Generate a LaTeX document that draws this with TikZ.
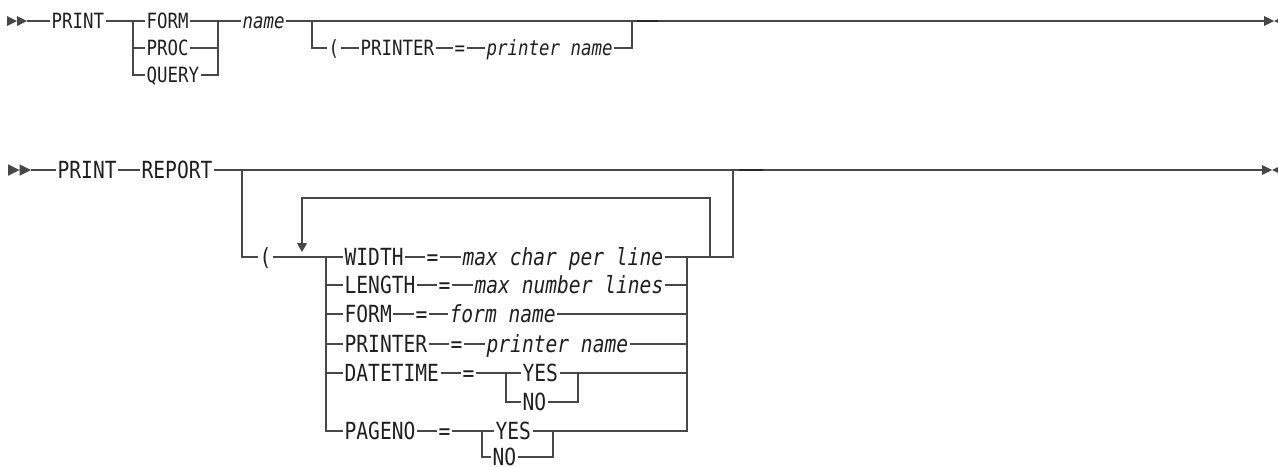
\documentclass[tikz,border=0pt]{standalone}
\usepackage{fontspec}
\usepackage{tikz}
\usetikzlibrary{arrows.meta}

\newfontfamily\rrfont[FakeStretch=0.83]{DejaVu Sans Mono}
\definecolor{rrline}{gray}{0.28}
\definecolor{rrtext}{gray}{0.12}

\tikzset{
  startmark/.pic={\fill[rrline] (0,-5) -- (10,0) -- (0,5) -- cycle
                                (10,-5) -- (20,0) -- (10,5) -- cycle;},
  endmark/.pic={\fill[rrline] (0,-5) -- (10,0) -- (0,5) -- cycle
                              (20,-5) -- (10,0) -- (20,5) -- cycle;},
  rr/.style={anchor=west,inner xsep=0.5pt,inner ysep=0pt,text=rrtext,text depth=0pt},
  darkseg/.style={line width=0.9pt,black!85}
}

\begin{document}
\begin{tikzpicture}[x=0.5pt,y=-0.5pt,line width=0.65pt,draw=rrline]
  \useasboundingbox (0,0) rectangle (1278,466);

      % first diagram: PRINT FORM/PROC/QUERY
      \begin{scope}[every node/.style={rr,font=\rrfont\fontsize{10.5}{12}\selectfont,text height=7.65pt}]
        \node[] (print1) at (50,21) {PRINT};
        \node[] (form1) at (145,21) {FORM};
        \node[] (proc1) at (145,48) {PROC};
        \node[] (query1) at (145,75) {QUERY};
        \node[] (name1) at (241,21) {\textit{name}};

        \node[] (lp1) at (327,48) {(};
        \node[] (printer1) at (359,48) {PRINTER};
        \node[] (eq1) at (453,48) {=};
        \node[] (pname1) at (485,48) {\textit{printer name}};
      \end{scope}

      \pic at (7,21) {startmark};
      \pic at (1264,21) {endmark};
      \coordinate (s1) at (27,21);
      \coordinate (ja) at (133,21);
      \coordinate (jb) at (218,21);
      \coordinate (jc) at (312,21);
      \coordinate (jd) at (632,21);
      \coordinate (d1a) at (637,21);
      \coordinate (d1b) at (658,21);
      \coordinate (e1) at (1264,21);

      \begin{scope}
        \draw (s1) -- (print1);
        \draw (print1) -- (form1);
        \draw (ja) |- (proc1);
        \draw (ja) |- (query1);

        \draw (form1) -- (name1);
        \draw (proc1) -| (jb);
        \draw (query1) -| (jb);

        \draw (name1) -- (e1);
        \draw (jc) |- (lp1);
        \draw (lp1) -- (printer1) -- (eq1) -- (pname1);
        \draw (pname1) -| (jd);
        \draw [darkseg] (d1a) -- (d1b);
      \end{scope}

      % second diagram: PRINT REPORT
      \begin{scope}[every node/.style={rr,font=\rrfont\fontsize{11.8}{13}\selectfont,text height=8.6pt}]
        \node[] (print2) at (56,170) {PRINT};
        \node[] (report2) at (140,170) {REPORT};
        \node[] (lp2) at (258,257) {(};

        \node[] (width) at (343,257) {WIDTH};
        \node[] (eqa) at (425,257) {=};
        \node[] (maxchar) at (461,257) {\textit{max char per line}};

        \node[] (length) at (343,285) {LENGTH};
        \node[] (eqb) at (437,285) {=};
        \node[] (maxlines) at (473,285) {\textit{max number lines}};

        \node[] (form2) at (343,314) {FORM};
        \node[] (eqc) at (414,314) {=};
        \node[] (fname) at (448,314) {\textit{form name}};

        \node[] (printer2) at (343,344) {PRINTER};
        \node[] (eqd) at (449,344) {=};
        \node[] (pname2) at (485,344) {\textit{printer name}};

        \node[] (dt) at (343,373) {DATETIME};
        \node[] (eqe) at (461,373) {=};
        \node[] (yes1) at (521,373) {YES};
        \node[] (no1) at (521,402) {NO};

        \node[] (pageno) at (343,431) {PAGENO};
        \node[] (eqf) at (437,431) {=};
        \node[] (yes2) at (494,431) {YES};
        \node[] (no2) at (491,457) {NO};
      \end{scope}

      \pic[scale=1.15] at (8,170) {startmark};
      \pic at (1262,170) {endmark};
      \coordinate (s2) at (31,170);
      \coordinate (k1) at (242,170);
      \coordinate (k2) at (326,257);
      \coordinate (k3) at (687,257);
      \coordinate (k4) at (733,170);
      \coordinate (lpA) at (710,257);
      \coordinate (lpB) at (302,252);
      \coordinate (m1) at (506,373);
      \coordinate (m2) at (578,373);
      \coordinate (n1) at (482,431);
      \coordinate (n2) at (553,431);
      \coordinate (d2a) at (739,170);
      \coordinate (d2b) at (763,170);
      \coordinate (e2) at (1262,170);

      \begin{scope}
        \draw (s2) -- (print2) -- (report2);
        \draw (report2) -- (e2);
        \draw (k1) |- (lp2);
        \draw (lp2) -- (width);
        \draw [-{Triangle[width=5pt,length=4.5pt]}] (lpA) -- ++(0,-59) -| (lpB);

        \draw (k2) |- (length);
        \draw (k2) |- (form2);
        \draw (k2) |- (printer2);
        \draw (k2) |- (dt);
        \draw (k2) |- (pageno);

        \draw (width) -- (eqa) -- (maxchar);
        \draw (maxchar) -| (k4);
        \draw (length) -- (eqb) -- (maxlines);
        \draw (maxlines) -| (k3);
        \draw (form2) -- (eqc) -- (fname);
        \draw (fname) -| (k3);
        \draw (printer2) -- (eqd) -- (pname2);
        \draw (pname2) -| (k3);

        \draw (dt) -- (eqe) -- (yes1);
        \draw (m1) |- (no1);
        \draw (yes1) -| (k3);
        \draw (no1) -| (m2);

        \draw (pageno) -- (eqf) -- (yes2);
        \draw (n1) |- (no2);
        \draw (yes2) -| (k3);
        \draw (no2) -| (n2);

        \draw [darkseg] (d2a) -- (d2b);
      \end{scope}
    \end{tikzpicture}
\end{document}
